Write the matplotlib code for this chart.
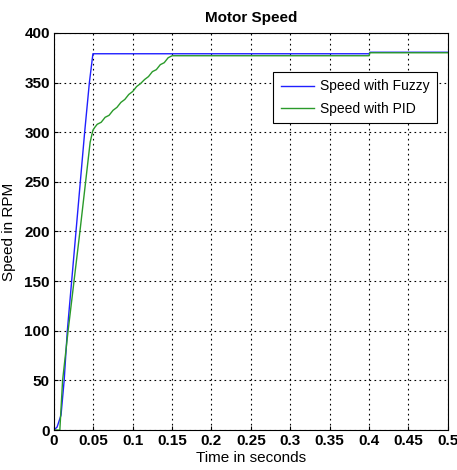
import matplotlib
matplotlib.use("Agg")
import matplotlib.pyplot as plt

# Fuzzy controller response
t_fuzzy = [0.0, 0.004, 0.009, 0.013, 0.017, 0.028, 0.039, 0.045, 0.0495, 0.05, 0.15, 0.4, 0.401, 0.5]
speed_fuzzy = [0, 3, 15, 50, 100, 200, 300, 350, 379, 379, 379, 379, 380.5, 380.5]

# PID controller response
t_pid = [0.0, 0.0075, 0.011, 0.018, 0.033, 0.046, 0.0495, 0.052, 0.055, 0.06, 0.065, 0.07,
         0.075, 0.08, 0.085, 0.09, 0.095, 0.1, 0.105, 0.11, 0.115, 0.12, 0.125, 0.13,
         0.135, 0.14, 0.145, 0.15, 0.2, 0.25, 0.3, 0.35, 0.4, 0.401, 0.5]
speed_pid = [0, 0, 50, 100, 200, 290, 302, 305, 308, 310, 315, 317,
             322, 325, 330, 333, 338, 341, 346, 349, 353, 356, 361, 363,
             368, 370, 375, 377, 377, 377, 377, 377, 377, 380, 380]

x_ticks = [0, 0.05, 0.1, 0.15, 0.2, 0.25, 0.3, 0.35, 0.4, 0.45, 0.5]
x_tick_labels = ["0", "0.05", "0.1", "0.15", "0.2", "0.25", "0.3", "0.35", "0.4", "0.45", "0.5"]
y_ticks = [0, 50, 100, 150, 200, 250, 300, 350, 400]

plt.rcParams["font.family"] = ["Liberation Sans", "DejaVu Sans"]

fig = plt.figure(figsize=(4.57, 4.70), dpi=100)
ax = fig.add_axes([0.118, 0.085, 0.862, 0.845])

ax.plot(t_fuzzy, speed_fuzzy, color="#2020ff", lw=1.0, label="Speed with Fuzzy")
ax.plot(t_pid, speed_pid, color="#2a9a2a", lw=1.0, label="Speed with PID")

ax.set_xlim(0, 0.5)
ax.set_ylim(0, 400)
ax.set_xticks(x_ticks)
ax.set_xticklabels(x_tick_labels)
ax.set_yticks(y_ticks)
ax.tick_params(direction="in", length=3, labelsize=11, pad=3)
for lbl in ax.get_xticklabels() + ax.get_yticklabels():
    lbl.set_fontweight("bold")

ax.grid(True, color="black", linestyle=(0, (1.5, 3)), linewidth=0.8)
for s in ax.spines.values():
    s.set_linewidth(0.8)

ax.set_title("Motor Speed", fontsize=11, fontweight="bold", pad=8)
ax.set_xlabel("Time in seconds", fontsize=11, labelpad=2)
ax.set_ylabel("Speed in RPM", fontsize=11, labelpad=6)

leg = ax.legend(loc="upper right", bbox_to_anchor=(0.972, 0.902), fontsize=10,
                fancybox=False, framealpha=1, edgecolor="black", handlelength=2.4,
                handletextpad=0.4, borderpad=0.55, labelspacing=0.6, borderaxespad=0)
leg.get_frame().set_linewidth(0.8)

fig.savefig("out.png", dpi=100)
